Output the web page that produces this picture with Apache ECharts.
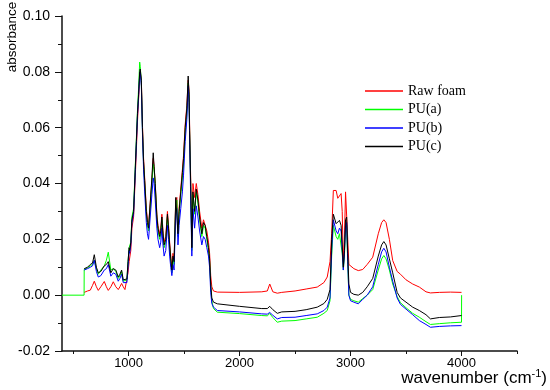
<!DOCTYPE html>
<html>
<head>
<meta charset="utf-8">
<script src="https://cdn.jsdelivr.net/npm/echarts@6/dist/echarts.min.js"></script>
<style>html,body{margin:0;padding:0;background:#fff}#c{width:550px;height:390px}</style>
</head>
<body>
<div id="c"></div>
<script>
// wavenumber grid (cm-1)
const wavenumbers = [
  400, 599,
  600, 630, 655, 675, 691, 710, 727, 750, 781, 800, 817, 840, 862, 885, 907, 922, 937, 952, 967, 985, 995, 1005,
  1010,1020,1030,1045,1060,1070,1080,1090,1100,1105,1115,1125,1135,1145,1160,1170,1180,1195,1210,1222,1230,1240,1255,1265,1280,1290,1300,1310,1320,1335,1350,1360,1370,1380,1390,1400,1410,1425,1435,1445,1455,1470,1485,1495,1510,1525,1537,1545,1550,1560,1570,1580,1595,1610,1625,1640,1660,1675,1690,1705,1720,1730,1740,1750,1765,
  1800, 2000, 2200, 2250, 2272, 2300, 2340, 2380, 2500, 2600, 2700, 2760, 2790,
  2800, 2815, 2830, 2845, 2855, 2870, 2885, 2900, 2915, 2925, 2935, 2945, 2955, 2965, 2975, 2985, 3000, 3030, 3070, 3110, 3150,
  3200, 3250, 3280, 3300, 3320, 3350, 3380, 3420, 3450, 3500, 3560, 3620, 3680, 3720, 3800, 3900, 4000, 4001
];
const rawFoam = [
  null, null,
  0.001, 0.0015, 0.0018, 0.0035, 0.005, 0.003, 0.0017, 0.003, 0.0049, 0.003, 0.0017, 0.003, 0.0048, 0.003, 0.002, 0.003, 0.0042, 0.003, 0.002, 0.0025, 0.008, 0.012,
  0.012, 0.016, 0.024, 0.028, 0.042, 0.052, 0.062, 0.070, 0.078, 0.080, 0.077, 0.061, 0.049, 0.042, 0.031, 0.027, 0.025, 0.033, 0.041, 0.049, 0.046, 0.040, 0.029, 0.025, 0.022, 0.024, 0.029, 0.023, 0.019, 0.021, 0.030, 0.025, 0.019, 0.014, 0.010, 0.015, 0.013, 0.034, 0.035, 0.023, 0.031, 0.038, 0.045, 0.050, 0.061, 0.068, 0.077, 0.073, 0.061, 0.041, 0.021, 0.040, 0.035, 0.040, 0.036, 0.030, 0.024, 0.027, 0.027, 0.023, 0.019, 0.015, 0.007, 0.003, 0.0015,
  0.0011, 0.001, 0.0012, 0.0015, 0.004, 0.0012, 0.0007, 0.001, 0.0015, 0.0022, 0.0029, 0.0045, 0.0065,
  0.007, 0.012, 0.022, 0.0375, 0.0378, 0.0375, 0.0347, 0.0347, 0.0364, 0.030, 0.012, 0.020, 0.037, 0.037, 0.020, 0.011, 0.0105, 0.0095, 0.0088, 0.0092, 0.011,
  0.0136, 0.022, 0.026, 0.027, 0.026, 0.020, 0.0124, 0.0085, 0.0075, 0.0055, 0.004, 0.0029, 0.0012, 0.0008, 0.001, 0.0011, 0.001, null
];
const puA = [
  0, 0,
  0.0092, 0.0098, 0.0105, 0.011, 0.0125, 0.0095, 0.0075, 0.009, 0.0105, 0.0125, 0.0154, 0.009, 0.0095, 0.0085, 0.006, 0.007, 0.0085, 0.005, 0.0045, 0.0055, 0.012, 0.017,
  0.017, 0.019, 0.028, 0.031, 0.046, 0.056, 0.066, 0.074, 0.0835, 0.082, 0.076, 0.059, 0.047, 0.040, 0.029, 0.025, 0.023, 0.031, 0.040, 0.047, 0.045, 0.039, 0.027, 0.023, 0.020, 0.022, 0.027, 0.021, 0.017, 0.019, 0.028, 0.023, 0.017, 0.012, 0.008, 0.013, 0.011, 0.033, 0.034, 0.021, 0.029, 0.036, 0.042, 0.047, 0.058, 0.065, 0.076, 0.071, 0.058, 0.038, 0.016, 0.036, 0.029, 0.037, 0.033, 0.027, 0.021, 0.025, 0.024, 0.020, 0.016, 0.012, 0.003, -0.002, -0.0048,
  -0.0061, -0.0066, -0.0073, -0.0074, -0.0066, -0.008, -0.0097, -0.0093, -0.0091, -0.0085, -0.0079, -0.0065, -0.0055,
  -0.005, -0.002, 0.014, 0.025, 0.025, 0.021, 0.020, 0.022, 0.022, 0.015, 0.009, 0.014, 0.024, 0.025, 0.011, 0.0, -0.0015, -0.002, -0.0025, -0.0012, 0.0,
  0.002, 0.009, 0.013, 0.0142, 0.013, 0.009, 0.004, -0.0005, -0.0027, -0.0045, -0.0065, -0.0079, -0.0095, -0.0105, -0.0102, -0.0099, -0.0097, 0
];
const puB = [
  null, null,
  0.009, 0.0095, 0.010, 0.0105, 0.0125, 0.0085, 0.0065, 0.007, 0.009, 0.0095, 0.011, 0.0068, 0.008, 0.0075, 0.005, 0.006, 0.0075, 0.0045, 0.0038, 0.0045, 0.010, 0.016,
  0.015, 0.018, 0.026, 0.029, 0.044, 0.054, 0.064, 0.071, 0.079, 0.080, 0.075, 0.058, 0.045, 0.037, 0.026, 0.022, 0.020, 0.028, 0.036, 0.042, 0.040, 0.034, 0.024, 0.020, 0.017, 0.019, 0.024, 0.018, 0.014, 0.016, 0.025, 0.020, 0.014, 0.010, 0.007, 0.011, 0.009, 0.030, 0.031, 0.018, 0.025, 0.031, 0.037, 0.043, 0.055, 0.063, 0.075, 0.069, 0.056, 0.034, 0.014, 0.031, 0.024, 0.032, 0.028, 0.023, 0.018, 0.021, 0.020, 0.017, 0.014, 0.010, 0.001, -0.003, -0.0043,
  -0.0055, -0.006, -0.0067, -0.0068, -0.0062, -0.0072, -0.0085, -0.008, -0.0079, -0.0073, -0.0067, -0.0055, -0.0043,
  -0.004, -0.001, 0.016, 0.027, 0.027, 0.023, 0.022, 0.024, 0.023, 0.016, 0.009, 0.015, 0.025, 0.026, 0.012, 0.0, -0.002, -0.0025, -0.0031, -0.0015, 0.0,
  0.003, 0.011, 0.0155, 0.0168, 0.0155, 0.010, 0.005, -0.001, -0.0033, -0.005, -0.007, -0.0091, -0.0105, -0.0115, -0.0112, -0.011, -0.0109, null
];
const puC = [
  null, null,
  0.0095, 0.010, 0.011, 0.0115, 0.0145, 0.010, 0.008, 0.0085, 0.0105, 0.011, 0.012, 0.008, 0.0095, 0.009, 0.0065, 0.0075, 0.009, 0.0055, 0.0048, 0.0058, 0.012, 0.017,
  0.016, 0.019, 0.027, 0.030, 0.045, 0.055, 0.065, 0.072, 0.080, 0.081, 0.077, 0.060, 0.048, 0.041, 0.030, 0.026, 0.024, 0.033, 0.042, 0.051, 0.046, 0.040, 0.028, 0.024, 0.021, 0.023, 0.028, 0.022, 0.018, 0.020, 0.029, 0.024, 0.018, 0.013, 0.009, 0.014, 0.012, 0.035, 0.035, 0.022, 0.030, 0.037, 0.044, 0.049, 0.060, 0.067, 0.0785, 0.072, 0.059, 0.039, 0.017, 0.037, 0.030, 0.038, 0.034, 0.028, 0.022, 0.026, 0.025, 0.021, 0.017, 0.013, 0.004, -0.001, -0.0025,
  -0.0031, -0.0040, -0.0048, -0.0048, -0.0040, -0.0052, -0.0065, -0.0060, -0.0058, -0.0052, -0.0043, -0.0030, -0.0015,
  -0.001, 0.002, 0.020, 0.029, 0.029, 0.0256, 0.026, 0.0268, 0.025, 0.018, 0.010, 0.016, 0.027, 0.028, 0.015, 0.004, 0.001, 0.0003, 0.0, 0.001, 0.003,
  0.006, 0.014, 0.018, 0.0192, 0.018, 0.013, 0.008, 0.001, -0.001, -0.0025, -0.0043, -0.0055, -0.007, -0.0085, -0.008, -0.0078, -0.0073, null
];
const seriesNames = ['Raw foam', 'PU(a)', 'PU(b)', 'PU(c)'];
const seriesColors = ['#ff0000', '#00ff00', '#0000ff', '#000000'];
const xMajorTicks = [1000, 2000, 3000, 4000];
const xMinorTicks = [500, 1500, 2500, 3500, 4500];

const allValues = [rawFoam, puA, puB, puC];
const chart = echarts.init(document.getElementById('c'), null, {renderer: 'canvas'});
const font = 'Liberation Sans, Arial, sans-serif';
const xCommon = {
  type: 'value', min: 400, max: 4500,
  splitLine: {show: false}
};
chart.setOption({
  animation: false,
  backgroundColor: '#fff',
  grid: {left: 62, right: 33, top: 16, bottom: 39},
  legend: {
    orient: 'vertical', left: 365, top: 84, padding: 0,
    icon: 'rect', itemWidth: 38, itemHeight: 1.5, itemGap: 4.5,
    data: seriesNames,
    textStyle: {fontFamily: 'Liberation Serif, Times New Roman, serif', fontSize: 14, color: '#000'}
  },
  xAxis: [
    Object.assign({}, xCommon, {
      position: 'bottom',
      axisLine: {show: true, onZero: false, lineStyle: {color: '#111', width: 1.5}},
      axisTick: {show: true, length: 5, inside: false, customValues: xMajorTicks, lineStyle: {color: '#111', width: 1}},
      axisLabel: {customValues: xMajorTicks, fontFamily: font, fontSize: 13, color: '#000', margin: 6, formatter: v => String(v)}
    }),
    Object.assign({}, xCommon, {
      position: 'bottom',
      axisLine: {show: false, onZero: false},
      axisTick: {show: true, length: 3, customValues: xMinorTicks, lineStyle: {color: '#111', width: 1}},
      axisLabel: {show: false}
    })
  ],
  yAxis: {
    type: 'value', min: -0.02, max: 0.10, interval: 0.02,
    axisLine: {show: true, onZero: false, lineStyle: {color: '#111', width: 1.5}},
    axisTick: {show: true, length: 7, lineStyle: {color: '#111', width: 1}},
    minorTick: {show: true, splitNumber: 2, length: 4, lineStyle: {color: '#111', width: 1}},
    splitLine: {show: false},
    axisLabel: {fontFamily: font, fontSize: 14, color: '#000', margin: 12, formatter: v => v.toFixed(2)}
  },
  graphic: [
    {type: 'text', x: 12, y: 37, rotation: Math.PI / 2,
     style: {text: 'absorbance', font: '13.5px Liberation Sans, Arial, sans-serif', fill: '#000', align: 'center', verticalAlign: 'middle'}},
    {type: 'text', right: 3, top: 368,
     style: {text: '{a|wavenumber (cm}{s|-1}{a|)}', fill: '#000',
       rich: {a: {fontFamily: font, fontSize: 17, color: '#000', lineHeight: 19, verticalAlign: 'bottom'},
              s: {fontFamily: font, fontSize: 11, color: '#000', verticalAlign: 'top', lineHeight: 19}}}}
  ],
  series: seriesNames.map((name, k) => ({
    name: name, type: 'line', xAxisIndex: 0,
    data: wavenumbers.map((w, i) => [w, allValues[k][i]]),
    showSymbol: false, symbol: 'none', connectNulls: false,
    lineStyle: {color: seriesColors[k], width: 1},
    itemStyle: {color: seriesColors[k]},
    z: 2 + k
  }))
});
</script>
</body>
</html>
